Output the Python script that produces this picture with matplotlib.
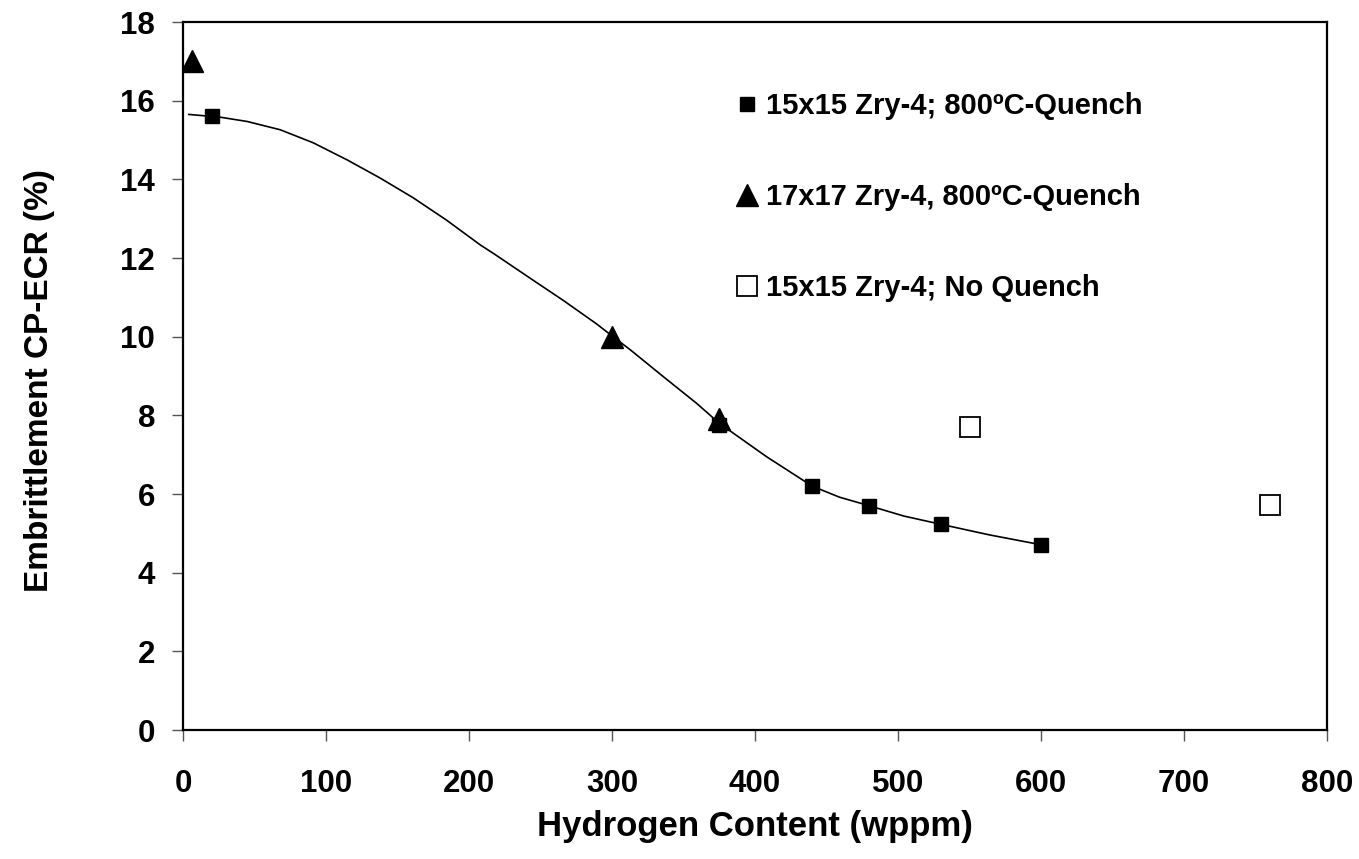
import matplotlib.pyplot as plt
from matplotlib.lines import Line2D

plt.rcParams['font.family'] = ['Liberation Sans', 'DejaVu Sans']
plt.rcParams['font.weight'] = 'bold'

# 15x15 Zry-4, 800C quench (filled squares)
h_q15 = [20, 375, 440, 480, 530, 600]
ecr_q15 = [15.6, 7.75, 6.2, 5.7, 5.23, 4.71]

# 17x17 Zry-4, 800C quench (triangles)
h_q17 = [6, 300, 375]
ecr_q17 = [17.0, 10.0, 7.9]

# 15x15 Zry-4, no quench (open squares)
h_nq = [550, 760]
ecr_nq = [7.7, 5.72]

# smooth trend line through the quenched data
h_fit = [4, 20, 26, 45, 68, 91, 115, 138, 161, 184, 208, 219, 243, 266, 289,
         300, 313, 336, 359, 375, 408, 440, 459, 480, 504, 530, 564, 600]
ecr_fit = [15.65, 15.6, 15.58, 15.47, 15.26, 14.93, 14.49, 14.03, 13.53, 12.97, 12.33, 12.07, 11.48, 10.92, 10.33,
           10.02, 9.66, 8.98, 8.31, 7.8, 6.95, 6.2, 5.92, 5.7, 5.44, 5.23, 4.96, 4.71]

fig = plt.figure(figsize=(13.59, 8.59), dpi=100)
ax = fig.add_axes([183 / 1359, 129 / 859, 1144 / 1359, 708 / 859])

ax.plot(h_fit, ecr_fit, color='black', lw=1.2, zorder=2)
ax.plot(h_q15, ecr_q15, ls='none', marker='s', ms=10, color='black', zorder=3)
ax.plot(h_q17, ecr_q17, ls='none', marker='^', ms=16, color='black', zorder=3)
ax.plot(h_nq, ecr_nq, ls='none', marker='s', ms=15, mfc='white', mec='black', mew=1.3, zorder=3)

ax.set_xlim(0, 800)
ax.set_ylim(0, 18)
ax.set_xticks(range(0, 801, 100))
ax.set_yticks(range(0, 19, 2))

for sp in ax.spines.values():
    sp.set_linewidth(1.6)
    sp.set_color('black')
ax.tick_params(direction='out', length=8, width=1, color='#555555', labelsize=22.5)
ax.tick_params(axis='x', pad=20)
ax.tick_params(axis='y', pad=12)

ax.set_xlabel('Hydrogen Content (wppm)', fontsize=25, fontweight='bold')
ax.set_ylabel('Embrittlement CP-ECR (%)', fontsize=24, fontweight='bold')
ax.xaxis.set_label_coords(0.5, -0.113)
ax.yaxis.set_label_coords(-0.112, 0.494)

handles = [
    Line2D([], [], ls='none', marker='s', ms=10, color='black'),
    Line2D([], [], ls='none', marker='^', ms=16, color='black'),
    Line2D([], [], ls='none', marker='s', ms=15, mfc='white', mec='black', mew=1.3),
]
labels = ['15x15 Zry-4; 800ºC-Quench', '17x17 Zry-4, 800ºC-Quench', '15x15 Zry-4; No Quench']
ax.legend(handles, labels, loc='upper left', bbox_to_anchor=(0.4726, 0.917),
          frameon=False, fontsize=21, handlelength=0.8, handletextpad=0.25,
          labelspacing=2.16, borderaxespad=0)

fig.savefig('out.png', dpi=100, facecolor='white')
